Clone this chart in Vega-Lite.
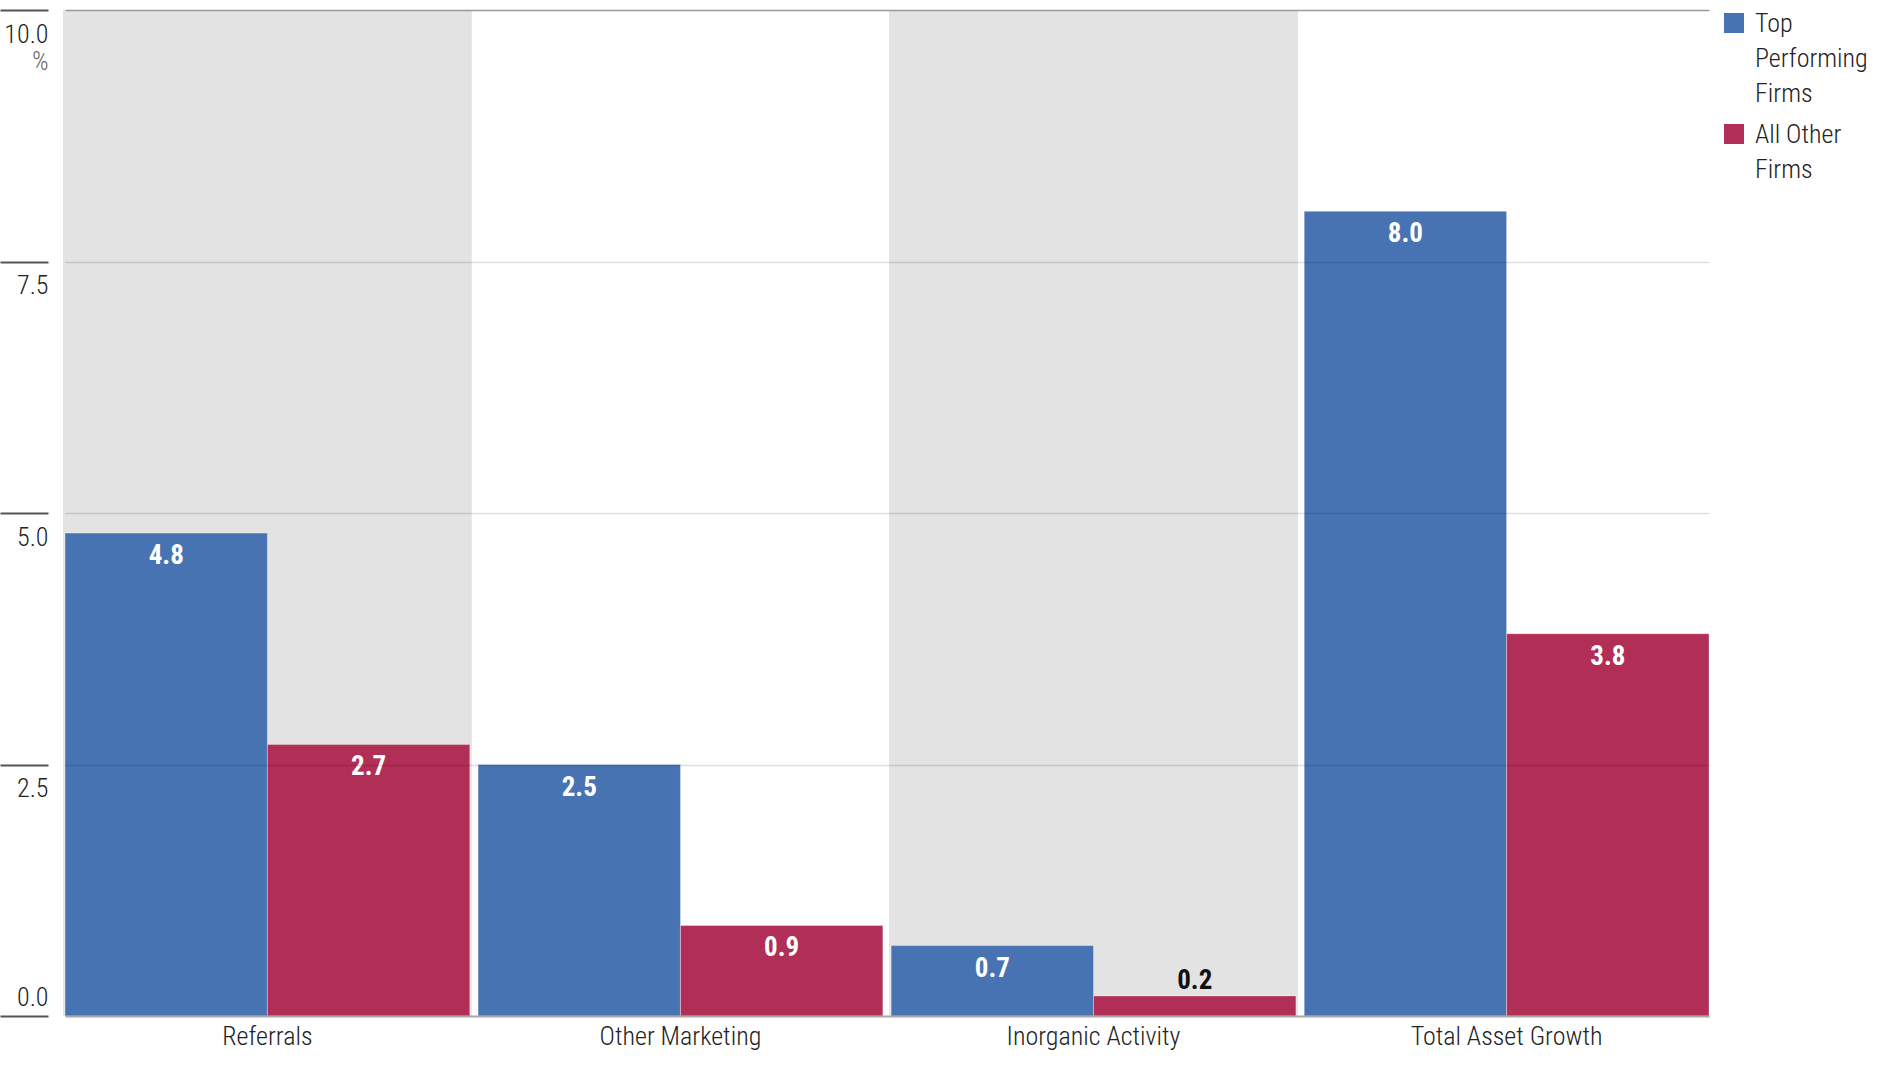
{
  "$schema": "https://vega.github.io/schema/vega-lite/v6.json",
  "width": 1644,
  "height": 1006,
  "autosize": {"type": "none"},
  "padding": {"left": 65, "top": 10, "right": 187, "bottom": 50},
  "background": "white",
  "config": {
    "view": {"stroke": null},
    "font": "Roboto Condensed, Liberation Sans Narrow, DejaVu Sans Condensed, sans-serif",
    "style": {"guide-label": {"lineHeight": 35, "dy": -12}}
  },
  "datasets": {
    "bars": [
      {"category": "Referrals", "series": "Top Performing Firms", "value": 4.8},
      {"category": "Referrals", "series": "All Other Firms", "value": 2.7},
      {"category": "Other Marketing", "series": "Top Performing Firms", "value": 2.5},
      {"category": "Other Marketing", "series": "All Other Firms", "value": 0.9},
      {"category": "Inorganic Activity", "series": "Top Performing Firms", "value": 0.7},
      {"category": "Inorganic Activity", "series": "All Other Firms", "value": 0.2},
      {"category": "Total Asset Growth", "series": "Top Performing Firms", "value": 8.0},
      {"category": "Total Asset Growth", "series": "All Other Firms", "value": 3.8}
    ],
    "bands": [
      {"category": "Referrals"},
      {"category": "Inorganic Activity"}
    ]
  },
  "encoding": {
    "x": {
      "field": "category",
      "type": "nominal",
      "sort": ["Referrals", "Other Marketing", "Inorganic Activity", "Total Asset Growth"],
      "scale": {"domain": ["Referrals", "Other Marketing", "Inorganic Activity", "Total Asset Growth"], "paddingInner": 0.02, "paddingOuter": 0},
      "axis": {
        "title": null,
        "ticks": false,
        "labelAngle": 0,
        "labelPadding": 19,
        "labelFontSize": 26,
        "labelFontWeight": 300,
        "labelLimit": 400,
        "labelColor": "#222",
        "domainColor": "#aaaaaa",
        "domainWidth": 2,
        "zindex": 1
      }
    }
  },
  "layer": [
    {
      "data": {"name": "bands"},
      "mark": {"type": "bar", "color": "#E3E3E3", "width": {"band": 1.01}},
      "encoding": {
        "y": {"datum": 0, "type": "quantitative", "scale": {"domain": [0, 10], "nice": false}},
        "y2": {"datum": 10}
      }
    },
    {
      "data": {"name": "bars"},
      "mark": {"type": "bar", "stroke": "white", "strokeOpacity": 0.35, "strokeWidth": 1},
      "encoding": {
        "xOffset": {"field": "series", "type": "nominal", "sort": ["Top Performing Firms", "All Other Firms"], "scale": {"paddingInner": 0, "paddingOuter": 0}},
        "y": {
          "field": "value",
          "type": "quantitative",
          "scale": {"domain": [0, 10], "nice": false},
          "axis": {
            "values": [0, 2.5, 5, 7.5, 10],
            "format": ".1f",
            "domain": false,
            "offset": 17,
            "tickSize": 48,
            "tickColor": "#555555",
            "tickWidth": 2,
            "labelPadding": -48,
            "labelAlign": "right",
            "labelFontSize": 26,
            "labelFontWeight": 300,
            "labelColor": "#222",
            "labelBaseline": {"condition": {"test": "datum.value == 0", "value": "alphabetic"}, "value": "top"},
            "labelOffset": {"condition": {"test": "datum.value == 0", "value": 1}, "value": 23},
            "grid": true,
            "gridColor": {"condition": {"test": "datum.value == 10", "value": "#999999"}, "value": "#000000"},
            "gridOpacity": {"condition": {"test": "datum.value == 10", "value": 1}, "value": 0.13},
            "gridWidth": 1.5,
            "title": "%",
            "titleAngle": 0,
            "titleAlign": "right",
            "titleBaseline": "top",
            "titleX": 0,
            "titleY": 38,
            "titleColor": "#666666",
            "titleFontSize": 26,
            "titleFontWeight": 300,
            "zindex": 1
          }
        },
        "color": {
          "field": "series",
          "type": "nominal",
          "scale": {"domain": ["Top Performing Firms", "All Other Firms"], "range": ["#4873B3", "#B12F57"]},
          "legend": {
            "title": null,
            "orient": "right",
            "offset": 12,
            "padding": 0,
            "symbolType": "square",
            "symbolSize": 400,
            "symbolStrokeWidth": 0,
            "symbolOpacity": 1,
            "labelFontSize": 26,
            "labelFontWeight": 300,
            "labelColor": "#222",
            "labelOffset": 8,
            "labelBaseline": "top",
            "labelLimit": 200,
            "rowPadding": 14,
            "labelExpr": "datum.label == 'Top Performing Firms' ? ['Top', 'Performing', 'Firms'] : ['All Other', 'Firms']"
          }
        }
      }
    },
    {
      "data": {"name": "bars"},
      "transform": [{"filter": "datum.value >= 0.5"}],
      "mark": {"type": "text", "baseline": "top", "dy": 10, "fontWeight": "bold", "fontSize": 27, "color": "white"},
      "encoding": {
        "xOffset": {"field": "series", "type": "nominal", "sort": ["Top Performing Firms", "All Other Firms"]},
        "y": {"field": "value", "type": "quantitative"},
        "text": {"field": "value", "type": "quantitative", "format": ".1f"}
      }
    },
    {
      "data": {"name": "bars"},
      "transform": [{"filter": "datum.value < 0.5"}],
      "mark": {"type": "text", "baseline": "alphabetic", "dy": -7, "fontWeight": "bold", "fontSize": 27, "color": "#111111"},
      "encoding": {
        "xOffset": {"field": "series", "type": "nominal", "sort": ["Top Performing Firms", "All Other Firms"]},
        "y": {"field": "value", "type": "quantitative"},
        "text": {"field": "value", "type": "quantitative", "format": ".1f"}
      }
    }
  ]
}
